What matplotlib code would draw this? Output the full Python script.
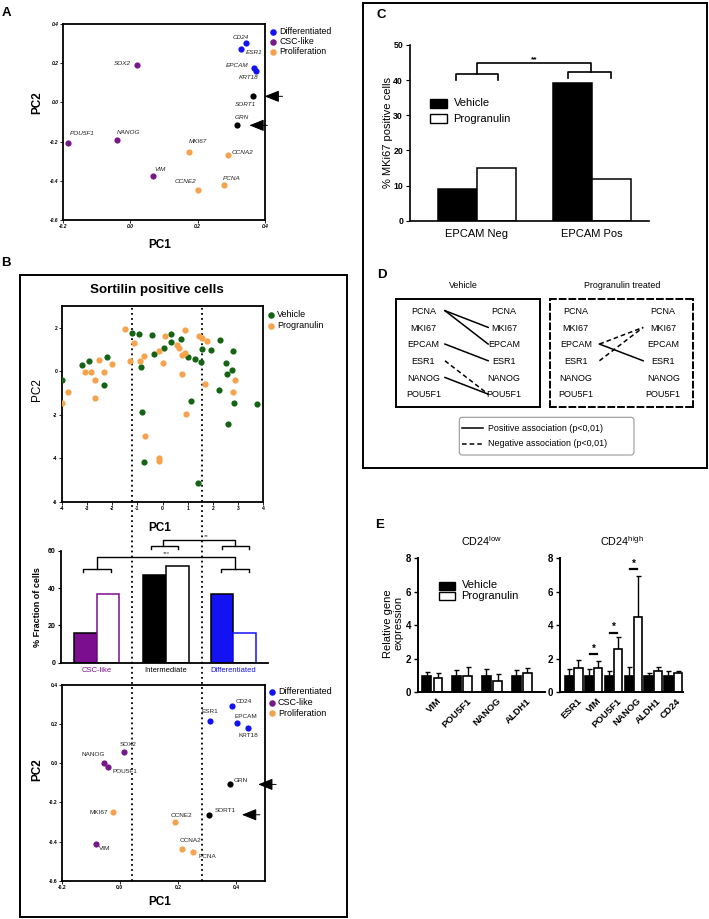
import matplotlib
matplotlib.use('Agg')
import matplotlib.pyplot as plt
from matplotlib.patches import Rectangle, FancyBboxPatch

plt.rcParams['font.family'] = ['Liberation Sans', 'DejaVu Sans']
plt.rcParams['mathtext.fontset'] = 'custom'
plt.rcParams['mathtext.rm'] = 'Liberation Sans'

# ------------------------------------------------------------------ data
genes = ['CD24', 'ESR1', 'EPCAM', 'KRT18', 'SORT1', 'GRN', 'SOX2', 'POU5F1',
         'NANOG', 'VIM', 'MKI67', 'CCNA2', 'CCNE2', 'PCNA']
gene_group = ['Differentiated'] * 4 + ['Sortilin'] * 2 + ['CSC-like'] * 4 + ['Proliferation'] * 4

# Panel A: gene loadings (all cells)
a_pc1 = [0.343, 0.328, 0.367, 0.372, 0.363, 0.318, 0.019, -0.186, -0.040, 0.066, 0.174, 0.289, 0.201, 0.278]
a_pc2 = [0.303, 0.272, 0.177, 0.162, 0.031, -0.117, 0.191, -0.209, -0.192, -0.376, -0.251, -0.268, -0.447, -0.421]

# Panel B bottom: gene loadings (sortilin positive cells)
b_pc1 = [0.386, 0.309, 0.403, 0.440, 0.307, 0.380, 0.016, -0.041, -0.054, -0.082, -0.022, 0.214, 0.190, 0.253]
b_pc2 = [0.293, 0.216, 0.204, 0.182, -0.263, -0.108, 0.060, -0.020, 0.000, -0.412, -0.249, -0.439, -0.300, -0.453]

# Panel B top: single cells
veh_pc1 = [-4.00, -3.21, -2.93, -2.19, -2.31, -1.21, -0.94, -0.85, -0.43, -0.32, 0.07, 0.35, 0.35, 0.72,
           1.03, 1.28, 1.53, 1.58, 1.91, 2.28, 2.81, 2.51, 2.55, 2.77, 2.23, 2.84, 3.74, 2.59, 1.15,
           -0.81, -0.72, 1.40]
veh_pc2 = [-0.40, 0.29, 0.49, 0.68, -0.63, 1.74, 1.71, 0.22, 1.69, 0.81, 1.05, 1.71, 1.34, 1.49,
           0.68, 0.56, 0.45, 1.04, 0.99, 1.43, 0.93, 0.39, -0.14, 0.04, -0.85, -1.46, -1.49, -2.44, -1.38,
           -1.87, -4.17, -5.12]
prg_pc1 = [-4.00, -3.74, -3.09, -2.85, -2.51, -2.66, -2.69, -2.33, -2.02, -1.47, -1.30, -1.13, -0.88,
           -0.75, -0.14, 0.02, 0.11, 0.58, 0.67, 0.76, 0.91, 0.88, 0.76, 1.44, 1.58, 1.75, 1.70, 2.87,
           2.79, 0.95, -0.71, -0.12, -0.12]
prg_pc2 = [-1.44, -0.94, -0.01, -0.02, 0.53, -0.40, -1.21, -0.01, 0.33, 1.95, 0.47, 1.30, 0.47,
           0.71, 0.93, 0.36, 1.62, 1.23, 1.07, 0.76, 0.82, 1.91, -0.10, 1.62, 1.53, 1.39, -0.59, -0.42,
           -0.97, -1.98, -2.97, -4.00, -4.11]
gate_pc1 = [-1.22, 1.56]

# Panel B middle: fraction of cells
frac_cats = ['CSC-like', 'Intermediate', 'Differentiated']
frac_vehicle = [16.1, 47.1, 37.0]
frac_progranulin = [37.0, 52.0, 16.1]

# Panel C
c_cats = ['EPCAM Neg', 'EPCAM Pos']
c_vehicle = [9.1, 39.1]
c_progranulin = [14.9, 12.0]

# Panel D
d_genes = ['PCNA', 'MKI67', 'EPCAM', 'ESR1', 'NANOG', 'POU5F1']
d_vehicle = [('PCNA', 'MKI67', 1), ('PCNA', 'EPCAM', 1), ('EPCAM', 'ESR1', 1),
             ('ESR1', 'POU5F1', -1), ('NANOG', 'POU5F1', 1)]
d_progranulin = [('EPCAM', 'MKI67', -1), ('ESR1', 'MKI67', -1), ('EPCAM', 'ESR1', 1)]

# Panel E
e_low_genes = ['VIM', 'POU5F1', 'NANOG', 'ALDH1']
e_low_veh = [1.0, 1.0, 1.0, 1.0]
e_low_veh_err = [0.20, 0.32, 0.40, 0.36]
e_low_prg = [0.84, 1.00, 0.70, 1.13]
e_low_prg_err = [0.33, 0.53, 0.39, 0.34]
e_high_genes = ['ESR1', 'VIM', 'POU5F1', 'NANOG', 'ALDH1', 'CD24']
e_high_veh = [1.0, 1.0, 1.0, 1.0, 1.0, 1.0]
e_high_veh_err = [0.39, 0.39, 0.29, 0.53, 0.13, 0.25]
e_high_prg = [1.43, 1.43, 2.59, 4.48, 1.29, 1.13]
e_high_prg_err = [0.47, 0.44, 0.73, 2.49, 0.24, 0.14]
e_sig_genes = ['VIM', 'POU5F1', 'NANOG']
e_sig_level = [2.27, 3.56, 7.36]

# ------------------------------------------------------------------ styles
COL = {'Differentiated': '#1212F2', 'CSC-like': '#761A8A', 'Proliferation': '#F7A24C', 'Sortilin': 'black'}
GREEN = '#146414'
ORANGE = '#F7A24C'
PURPLE = '#7A0E8E'
BLUE = '#1212F2'

W, H = 709, 919
fig = plt.figure(figsize=(W / 100, H / 100), dpi=100)


def add_ax(l, t, r, b):
    return fig.add_axes([l / W, 1 - b / H, (r - l) / W, (b - t) / H])


ov = add_ax(0, 0, W, H)
ov.set_xlim(0, W)
ov.set_ylim(H, 0)
ov.axis('off')
ov.set_zorder(20)


def tiny_ticks(ax, xt, yt, fmt, italic=False):
    st = 'italic' if italic else 'normal'
    ax.set_xticks(xt)
    ax.set_xticklabels([fmt(v) for v in xt], fontsize=3.6, fontweight='bold', fontstyle=st)
    ax.set_yticks(yt)
    ax.set_yticklabels([fmt(v) for v in yt], fontsize=3.6, fontweight='bold', fontstyle=st)
    ax.tick_params(length=2, width=0.6, pad=1)
    for s in ax.spines.values():
        s.set_linewidth(1.3)


def loading_plot(ax, pc1, pc2, offsets, italic, xlim):
    for g, x, y, grp in zip(genes, pc1, pc2, gene_group):
        ax.scatter(x, y, s=20, color=COL[grp], zorder=3, linewidths=0)
        dx, dy = offsets[g]
        ax.annotate(g, (x, y), xytext=(dx, -dy), textcoords='offset pixels', ha='center', va='center',
                    fontsize=4.6, fontstyle='italic' if italic else 'normal', color='#222222')
    ax.set_xlim(*xlim)
    ax.set_ylim(-0.6, 0.4)


def arrow_to(ax, x, y, dx_tip, length):
    px, py = ax.transData.transform((x, y))
    tip = ov.transData.inverted().transform((px, py))
    ov.annotate('', xy=(tip[0] + dx_tip, tip[1]), xytext=(tip[0] + dx_tip + length, tip[1]),
                arrowprops=dict(arrowstyle='-|>,head_length=0.75,head_width=0.3', color='black', lw=0.7,
                                mutation_scale=12, shrinkA=0, shrinkB=0))


def legend_dots(x, y0, step, labels, colors, fs):
    for i, (lab, c) in enumerate(zip(labels, colors)):
        ov.scatter(x, y0 + i * step, s=22, color=c, linewidths=0)
        ov.text(x + 6, y0 + i * step, lab, fontsize=fs, va='center', ha='left')


# ------------------------------------------------------------------ panel A
axA = add_ax(63, 24, 265, 220)
offA = {'CD24': (-5, -6), 'ESR1': (13, 3), 'EPCAM': (-17, -2), 'KRT18': (-7, 7), 'SORT1': (-7, 8),
        'GRN': (4, -8), 'SOX2': (-14, -1), 'POU5F1': (14, -10), 'NANOG': (12, -8), 'MKI67': (9, -10),
        'CCNA2': (15, -2), 'VIM': (8, -7), 'CCNE2': (-13, -9), 'PCNA': (8, -6)}
loading_plot(axA, a_pc1, a_pc2, offA, True, (-0.2, 0.4))
tiny_ticks(axA, [-0.2, 0.0, 0.2, 0.4], [-0.6, -0.4, -0.2, 0.0, 0.2, 0.4], lambda v: f'{v:.1f}', italic=True)
ov.text(37, 103, 'PC2', fontsize=8.5, fontweight='bold', rotation=90, ha='center', va='center')
ov.text(160, 245, 'PC1', fontsize=8.5, fontweight='bold', ha='center', va='center')
legend_dots(273, 32, 10, ['Differentiated', 'CSC-like', 'Proliferation'],
            [COL['Differentiated'], COL['CSC-like'], COL['Proliferation']], 6.3)
arrow_to(axA, a_pc1[4], a_pc2[4], 12, 18)
arrow_to(axA, a_pc1[5], a_pc2[5], 12, 18)
ov.text(6.5, 12.5, 'A', fontsize=9.5, fontweight='bold', ha='center', va='center')

# ------------------------------------------------------------------ panel B
ov.add_patch(Rectangle((20, 275), 326.5, 642, fill=False, lw=1.4, ec='black'))
ov.text(6, 263, 'B', fontsize=9.5, fontweight='bold', ha='center', va='center')
ov.text(157, 290, 'Sortilin positive cells', fontsize=9.6, fontweight='bold', ha='center', va='center')

axB1 = add_ax(61.7, 306, 263.3, 502)
axB1.scatter(veh_pc1, veh_pc2, s=20, color=GREEN, linewidths=0, zorder=3)
axB1.scatter(prg_pc1, prg_pc2, s=20, color=ORANGE, linewidths=0, zorder=3)
axB1.set_xlim(-4, 4)
axB1.set_ylim(-6, 3)
tiny_ticks(axB1, list(range(-4, 5)), [-6, -4, -2, 0, 2], lambda v: f'{v:d}')
axB1.set_zorder(5)
axB1.patch.set_facecolor('none')
for g in gate_pc1:
    axB1.axvline(g, ymin=-(880.7 - 502) / 196, ymax=1, clip_on=False, color='black',
                 lw=1.3, ls=(0, (1, 1.8)), zorder=1)
ov.text(37, 390, 'PC2', fontsize=8.5, rotation=90, ha='center', va='center')
ov.text(160, 528, 'PC1', fontsize=8.5, fontweight='bold', ha='center', va='center')
legend_dots(271, 314.7, 11, ['Vehicle', 'Progranulin'], [GREEN, ORANGE], 6.5)

# bar chart of fractions
axB2 = add_ax(61, 550.7, 268, 662.7)
axB2.patch.set_facecolor('none')
centers = [0.525, 1.54, 2.53]
bw = 0.334
fill_v = [PURPLE, 'black', BLUE]
edge_v = ['black', 'black', 'black']
edge_p = [PURPLE, 'black', BLUE]
for c, v, p, fv, ev, ep in zip(centers, frac_vehicle, frac_progranulin, fill_v, edge_v, edge_p):
    axB2.bar(c - bw / 2, v, width=bw, color=fv, edgecolor=ev, lw=1.1)
    axB2.bar(c + bw / 2, p, width=bw, color='white', edgecolor=ep, lw=1.1)
axB2.set_xlim(0, 3.04)
axB2.set_ylim(0, 60)
axB2.spines['top'].set_visible(False)
axB2.spines['right'].set_visible(False)
for s in ('left', 'bottom'):
    axB2.spines[s].set_linewidth(1.3)
axB2.set_yticks([0, 20, 40, 60])
axB2.set_yticklabels(['0', '20', '40', '60'], fontsize=5, fontweight='bold')
axB2.set_xticks(centers)
axB2.set_xticklabels(frac_cats, fontsize=5.5)
for lab, c in zip(axB2.get_xticklabels(), [PURPLE, 'black', BLUE]):
    lab.set_color(c)
axB2.tick_params(axis='x', length=0, pad=3)
axB2.tick_params(axis='y', length=2.5, width=0.8, pad=1.5)
ov.text(37, 606.7, '% Fraction of cells', fontsize=6.5, fontweight='bold', rotation=90,
        ha='center', va='center')


def bracket(ax, x0, x1, ytop, ybot, **kw):
    ax.plot([x0, x0, x1, x1], [ybot, ytop, ytop, ybot], color='black', clip_on=False, **kw)


# *** CSC vs Differentiated
kw = dict(lw=1.0)
bracket(axB2, 0.328, 0.730, 50.2, 48.4, **kw)
bracket(axB2, 2.348, 2.755, 50.2, 48.4, **kw)
axB2.plot([0.534, 0.534, 2.549, 2.549], [50.2, 56.8, 56.8, 50.2], color='black', clip_on=False, **kw)
axB2.text(1.55, 57.2, '***', fontsize=4.5, ha='center', va='bottom', color='#444444')
# ** Intermediate vs Differentiated
bracket(axB2, 1.319, 1.716, 62.5, 60.7, **kw)
bracket(axB2, 2.363, 2.755, 62.5, 60.7, **kw)
axB2.plot([1.505, 1.505, 2.549, 2.549], [62.5, 65.7, 65.7, 62.5], color='black', clip_on=False, **kw)
axB2.text(2.13, 66.0, '**', fontsize=4.5, ha='center', va='bottom', color='#444444')

# bottom loading plot
axB3 = add_ax(61.7, 685, 265, 880.7)
axB3.patch.set_facecolor('none')
offB = {'CD24': (11.6, -4.3), 'ESR1': (0, -9.3), 'EPCAM': (9, -7.3), 'KRT18': (1, 8), 'SOX2': (3.4, -7.4),
        'NANOG': (-10.7, -8.3), 'POU5F1': (16.6, 4.4), 'GRN': (10.7, -3.6), 'SORT1': (16.3, -4.7),
        'MKI67': (-14.3, 0), 'CCNE2': (6.3, -6.3), 'VIM': (9, 4.6), 'CCNA2': (8.3, -8.3), 'PCNA': (13.7, 4.3)}
loading_plot(axB3, b_pc1, b_pc2, offB, False, (-0.2, 0.5))
tiny_ticks(axB3, [-0.2, 0.0, 0.2, 0.4], [-0.6, -0.4, -0.2, 0.0, 0.2, 0.4], lambda v: f'{v:.1f}')
ov.text(37, 770, 'PC2', fontsize=8.5, fontweight='bold', rotation=90, ha='center', va='center')
ov.text(160, 901.7, 'PC1', fontsize=8.5, fontweight='bold', ha='center', va='center')
legend_dots(272, 692, 10.5, ['Differentiated', 'CSC-like', 'Proliferation'],
            [COL['Differentiated'], COL['CSC-like'], COL['Proliferation']], 6.5)
arrow_to(axB3, b_pc1[5], b_pc2[5], 28, 18)
arrow_to(axB3, b_pc1[4], b_pc2[4], 33, 18)

# ------------------------------------------------------------------ panel C
ov.add_patch(Rectangle((362.7, 3), 344, 465.3, fill=False, lw=1.4, ec='black'))
ov.text(381.7, 15, 'C', fontsize=9.5, fontweight='bold', ha='center', va='center')
axC = add_ax(410, 45, 649.3, 220.7)
cc = [0.279, 0.760]
cw = 0.163
for c, v, p in zip(cc, c_vehicle, c_progranulin):
    axC.bar(c - cw / 2, v, width=cw, color='black', edgecolor='black', lw=1.1)
    axC.bar(c + cw / 2, p, width=cw, color='white', edgecolor='black', lw=1.1)
axC.set_xlim(0, 1)
axC.set_ylim(0, 50)
axC.spines['top'].set_visible(False)
axC.spines['right'].set_visible(False)
for s in ('left', 'bottom'):
    axC.spines[s].set_linewidth(1.2)
axC.set_yticks([0, 10, 20, 30, 40, 50])
axC.set_yticklabels(['0', '10', '20', '30', '40', '50'], fontsize=6.3, fontweight='bold')
axC.set_xticks(cc)
axC.set_xticklabels(c_cats, fontsize=8)
axC.tick_params(axis='x', length=0, pad=6)
axC.tick_params(axis='y', length=3, width=0.8, pad=2)
bracket(axC, 0.191, 0.367, 41.7, 40.0, lw=1.2)
bracket(axC, 0.660, 0.840, 42.4, 40.5, lw=1.2)
axC.plot([0.279, 0.279, 0.755, 0.755], [41.7, 44.8, 44.8, 42.4], color='black', clip_on=False, lw=1.2)
axC.text(0.52, 44.9, '**', fontsize=6, fontweight='bold', ha='center', va='bottom')
ov.text(388, 133, '% MKi67 positive cells', fontsize=8, rotation=90, ha='center', va='center')
for i, (lab, fc) in enumerate(zip(['Vehicle', 'Progranulin'], ['black', 'white'])):
    y = 103.5 + i * 15.2
    ov.add_patch(Rectangle((430.3, y - 4.5), 17, 9, fc=fc, ec='black', lw=1.0))
    ov.text(453.5, y, lab, fontsize=8, ha='left', va='center')

# ------------------------------------------------------------------ panel D
ov.text(382, 275, 'D', fontsize=9.5, fontweight='bold', ha='center', va='center')
ov.text(463, 285, 'Vehicle', fontsize=6.4, ha='center', va='center')
ov.text(621.7, 285, 'Progranulin treated', fontsize=6.4, ha='center', va='center')


def assoc_box(l, r, assoc, boxls, xl, xr, xa, xb):
    ax = add_ax(l, 299, r, 407)
    ax.set_xlim(0, 1)
    ax.set_ylim(5.72, -0.75)
    ax.set_xticks([])
    ax.set_yticks([])
    for s in ax.spines.values():
        s.set_linewidth(1.4)
        s.set_linestyle(boxls)
    for i, g in enumerate(d_genes):
        ax.text(xl, i, g, fontsize=6.5, ha='center', va='center')
        ax.text(xr, i, g, fontsize=6.5, ha='center', va='center')
    for g1, g2, sgn in assoc:
        ax.plot([xa, xb], [d_genes.index(g1) - 0.05, d_genes.index(g2) - 0.05], color='black', lw=1.1,
                ls='-' if sgn > 0 else (0, (3, 2)))
    return ax


assoc_box(396, 540, d_vehicle, '-', 0.19, 0.75, 0.34, 0.64)
assoc_box(550, 693.3, d_progranulin, (0, (3, 2)), 0.18, 0.79, 0.345, 0.65)
ov.add_patch(FancyBboxPatch((459.3, 417.3), 174.7, 37.7, boxstyle='round,pad=0,rounding_size=3',
                            fill=False, ec='#999999', lw=0.8))
ov.plot([461.7, 483.3], [428.3, 428.3], color='black', lw=1.1)
ov.plot([461.7, 483.3], [444, 444], color='black', lw=1.1, ls=(0, (3, 2)))
ov.text(488.3, 428.3, 'Positive association (p<0,01)', fontsize=6.4, ha='left', va='center')
ov.text(488.3, 444, 'Negative association (p<0,01)', fontsize=6.4, ha='left', va='center')

# ------------------------------------------------------------------ panel E
ov.text(380, 525, 'E', fontsize=9.5, fontweight='bold', ha='center', va='center')


def expr_panel(ax, gnames, veh, veh_e, prg, prg_e, xmax, first, off, bw, title):
    xs = [first + i for i in range(len(gnames))]
    for x, v, ve, p, pe in zip(xs, veh, veh_e, prg, prg_e):
        ax.bar(x - off, v, width=bw, color='black', edgecolor='black', lw=1.2, zorder=2)
        ax.bar(x + off, p, width=bw, color='white', edgecolor='black', lw=1.2, zorder=2)
        ax.errorbar(x - off, v, yerr=[[0], [ve]], color='black', lw=1.0, capsize=1.8, capthick=1.0, zorder=1)
        ax.errorbar(x + off, p, yerr=[[0], [pe]], color='black', lw=1.0, capsize=1.8, capthick=1.0, zorder=1)
    ax.set_xlim(0, xmax)
    ax.set_ylim(0, 8)
    ax.spines['top'].set_visible(False)
    ax.spines['right'].set_visible(False)
    for s in ('left', 'bottom'):
        ax.spines[s].set_linewidth(1.4)
    ax.set_yticks([0, 2, 4, 6, 8])
    ax.set_yticklabels(['0', '2', '4', '6', '8'], fontsize=7, fontweight='bold')
    ax.set_xticks([x + 0.15 for x in xs])
    ax.set_xticklabels(gnames, rotation=45, ha='right', rotation_mode='anchor', fontsize=6.8,
                       fontweight='bold')
    ax.tick_params(axis='x', length=0, pad=3)
    ax.tick_params(axis='y', length=3, width=1.0, pad=2)
    ax.set_title(title, fontsize=7.8, pad=9)
    return xs


axE1 = add_ax(418.3, 558.3, 545, 692.3)
expr_panel(axE1, e_low_genes, e_low_veh, e_low_veh_err, e_low_prg, e_low_prg_err,
           4.25, 0.47, 0.19, 0.30, 'CD24$^{\\mathrm{low}}$')
axE2 = add_ax(560, 558.3, 683.3, 692.3)
xs2 = expr_panel(axE2, e_high_genes, e_high_veh, e_high_veh_err, e_high_prg, e_high_prg_err,
                 6.2, 0.69, 0.235, 0.42, 'CD24$^{\\mathrm{high}}$')
for g, lvl in zip(e_sig_genes, e_sig_level):
    x = xs2[e_high_genes.index(g)]
    axE2.plot([x - 0.17, x + 0.17], [lvl, lvl], color='black', lw=1.6, clip_on=False)
    axE2.text(x, lvl + 0.02, '*', fontsize=7, fontweight='bold', ha='center', va='bottom')
ov.text(393.3, 623.3, 'Relative gene\nexpression', fontsize=8, rotation=90, ha='center', va='center',
        linespacing=1.0)
for i, (lab, fc) in enumerate(zip(['Vehicle', 'Progranulin'], ['black', 'white'])):
    y = 585.5 + i * 10.5
    ov.add_patch(Rectangle((438.5, y - 4), 16, 8, fc=fc, ec='black', lw=1.0))
    ov.text(461.5, y, lab, fontsize=8, ha='left', va='center')

fig.savefig('out.png', dpi=100, facecolor='white')
